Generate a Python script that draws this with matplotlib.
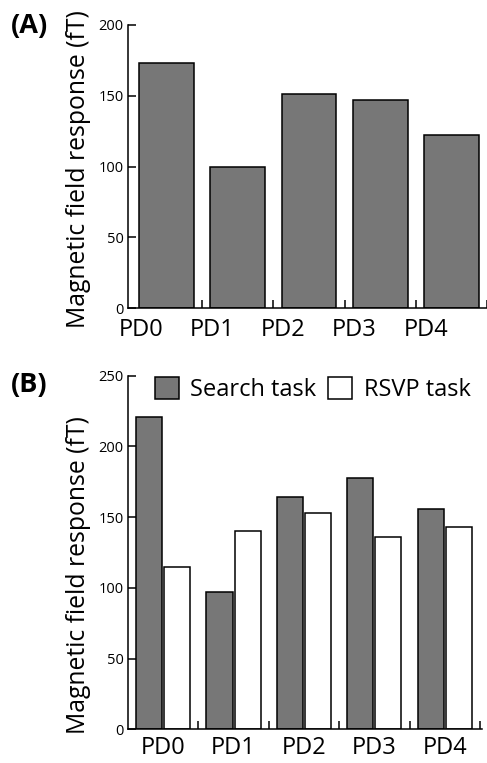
import numpy as np
import matplotlib
matplotlib.use("Agg")
from matplotlib import pyplot as plt

plt.rcParams['font.family'] = ['Open Sans', 'DejaVu Sans']

categories = ["PD0", "PD1", "PD2", "PD3", "PD4"]
response_a = [173, 100, 151, 147, 122]
search_task = [221, 97, 164, 178, 156]
rsvp_task = [115, 140, 153, 136, 143]

GRAY = "#777777"
LW = 1.1
LABEL_SIZE = 17
TICK_SIZE = 10.5


def _style_axes(ax, ymax, label_pad):
    for side in ("top", "right"):
        ax.spines[side].set_visible(False)
    for side in ("left", "bottom"):
        ax.spines[side].set_linewidth(LW)
    ax.set_ylim(0, ymax)
    ax.set_yticks(np.arange(0, ymax + 1, 50))
    ax.tick_params(axis="y", direction="in", length=6, width=LW, labelsize=TICK_SIZE, pad=3)
    # category boundaries get the tick marks, labels sit on separate tickless ticks
    ax.set_xticks(np.arange(1, len(categories) + 1), minor=True)
    ax.tick_params(axis="x", which="minor", direction="in", length=6, width=LW)
    ax.tick_params(axis="x", which="major", length=0, labelsize=LABEL_SIZE, pad=label_pad)


fig = plt.figure(figsize=(4.87, 7.63), dpi=100)

# (A) single series
ax1 = fig.add_axes([128 / 487, 1 - 308 / 763, 359 / 487, 283 / 763])
x = np.arange(len(categories)) + 0.5
ax1.bar(x, response_a, width=0.77, color=GRAY, edgecolor="black", linewidth=LW)
_style_axes(ax1, 200, label_pad=7)
ax1.set_xlim(-0.04, 5.0)
ax1.set_xticks(x - 0.36)
ax1.set_xticklabels(categories)

# (B) search vs RSVP
ax2 = fig.add_axes([128 / 487, 1 - 729.3 / 763, 354 / 487, 353.6 / 763])
ax2.bar(x - 0.2, search_task, width=0.37, color=GRAY, edgecolor="black",
        linewidth=LW, label="Search task")
ax2.bar(x + 0.2, rsvp_task, width=0.37, color="white", edgecolor="black",
        linewidth=LW, label="RSVP task")
_style_axes(ax2, 250, label_pad=5)
ax2.set_xlim(0, 5.03)
ax2.set_xticks(x)
ax2.set_xticklabels(categories)
ax2.legend(loc="upper left", bbox_to_anchor=(155 / 487, 1 - 377 / 763),
           bbox_transform=fig.transFigure, ncol=2, frameon=False,
           fontsize=LABEL_SIZE, handlelength=1.0, handleheight=1.05,
           handletextpad=0.5, columnspacing=0.5, borderpad=0, borderaxespad=0)

fig.text(79 / 487, 1 - 169 / 763, "Magnetic field response (fT)", rotation=90,
         ha="center", va="center", fontsize=17.8)
fig.text(79 / 487, 1 - 575 / 763, "Magnetic field response (fT)", rotation=90,
         ha="center", va="center", fontsize=17.8)
fig.text(11 / 487, 1 - 26 / 763, "(A)", fontsize=19.5, fontweight="bold", va="center")
fig.text(11 / 487, 1 - 385 / 763, "(B)", fontsize=19.5, fontweight="bold", va="center")

fig.savefig("out.png", dpi=100)
